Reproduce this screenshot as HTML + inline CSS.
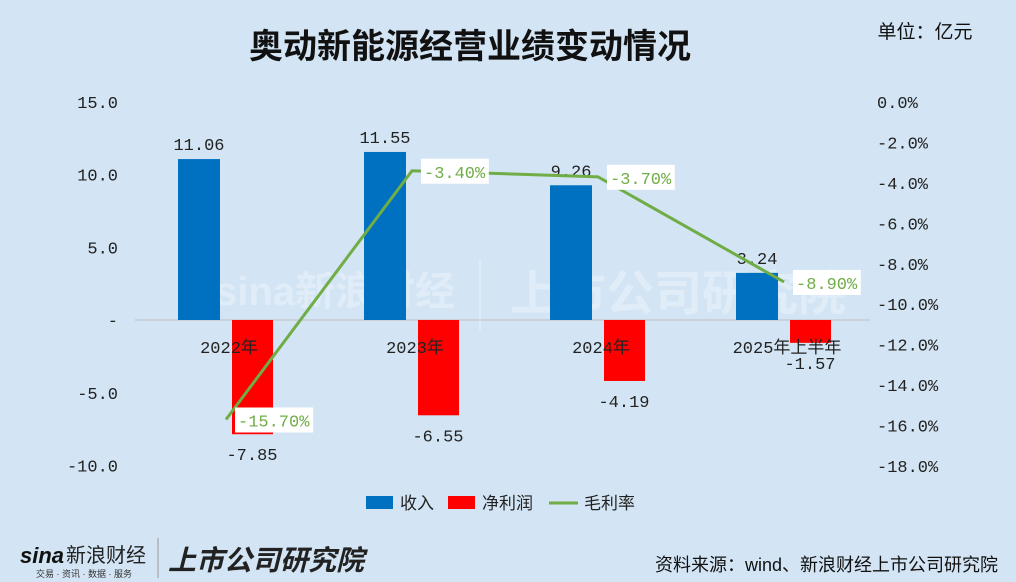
<!DOCTYPE html>
<html><head><meta charset="utf-8"><style>
body{margin:0;background:#d3e5f4;}
#c{position:relative;width:1016px;height:582px;background:#d3e5f4;overflow:hidden;font-family:"Liberation Sans","Noto Sans CJK SC",sans-serif;}
</style></head><body>
<div id="c">
<svg id="s" width="1016" height="582" xmlns="http://www.w3.org/2000/svg">
<text x="470" y="58" text-anchor="middle" font-size="34" font-weight="bold" fill="#111" font-family="Liberation Sans,Noto Sans CJK SC,sans-serif">奥动新能源经营业绩变动情况</text>
<text x="925" y="38" text-anchor="middle" font-size="19" fill="#111" font-family="Liberation Sans,Noto Sans CJK SC,sans-serif">单位：亿元</text>
<g opacity="0.3">
<text x="215" y="305" font-size="40" font-weight="bold" fill="#fff" font-family="Liberation Sans,Noto Sans CJK SC,sans-serif">sina新浪财经</text>
<line x1="480" y1="260" x2="480" y2="330" stroke="#fff" stroke-width="2"/>
<text x="510" y="310" font-size="48" font-weight="bold" fill="#fff" font-family="Liberation Sans,Noto Sans CJK SC,sans-serif">上市公司研究院</text>
</g>
<g id="plot"></g>
<g>
<rect x="366" y="496" width="27" height="13" fill="#0070c0"/>
<text x="400" y="509" font-size="17" fill="#222" font-family="Liberation Sans,Noto Sans CJK SC,sans-serif">收入</text>
<rect x="448" y="496" width="27" height="13" fill="#ff0000"/>
<text x="482" y="509" font-size="17" fill="#222" font-family="Liberation Sans,Noto Sans CJK SC,sans-serif">净利润</text>
<line x1="549" y1="503" x2="578" y2="503" stroke="#70ad47" stroke-width="3"/>
<text x="584" y="509" font-size="17" fill="#222" font-family="Liberation Sans,Noto Sans CJK SC,sans-serif">毛利率</text>
</g>
<g>
<text x="20" y="563" font-size="22" font-weight="bold" font-style="italic" fill="#111" font-family="Liberation Sans,sans-serif">sina</text>
<text x="66" y="562" font-size="20" fill="#222" font-family="Liberation Sans,Noto Sans CJK SC,sans-serif">新浪财经</text>
<text x="36" y="577" font-size="9" fill="#333" font-family="Liberation Sans,Noto Sans CJK SC,sans-serif">交易 · 资讯 · 数据 · 服务</text>
<line x1="158" y1="538" x2="158" y2="578" stroke="#999"/>
<text x="168" y="570" font-size="28" font-weight="bold" font-style="italic" fill="#222" font-family="Liberation Sans,Noto Sans CJK SC,sans-serif">上市公司研究院</text>
</g>
<text x="998" y="571" text-anchor="end" font-size="18" fill="#111" font-family="Liberation Sans,Noto Sans CJK SC,sans-serif">资料来源：wind、新浪财经上市公司研究院</text>
</svg>
</div>
<script>
const categories=["2022年","2023年","2024年","2025年上半年"];
const revenue=[11.06,11.55,9.26,3.24];
const profit=[-7.85,-6.55,-4.19,-1.57];
const margin=[-15.70,-3.40,-3.70,-8.90];
const leftTicks=[15,10,5,0,-5,-10];
const rightTicks=[0,-2,-4,-6,-8,-10,-12,-14,-16,-18];
const NS="http://www.w3.org/2000/svg";
const g=document.getElementById('plot');
const y0=320,pxPerUnit=14.55;
const yL=v=>y0-v*pxPerUnit;
const yR=p=>102+(-p)*(364/18);
const xC=i=>225+i*186;
function mk(t,a,txt){const e=document.createElementNS(NS,t);for(const k in a)e.setAttribute(k,a[k]);if(txt!==undefined)e.textContent=txt;g.appendChild(e);return e;}
const F="Liberation Mono,Noto Sans CJK SC,monospace";
leftTicks.forEach(v=>{const e=mk('text',{x:118,y:yL(v)+6,'text-anchor':'end','font-size':17,fill:'#222','font-family':F},v===0?'-':v.toFixed(1));

});
rightTicks.forEach(v=>{const e=mk('text',{x:877,y:yR(v)+6,'font-size':17,fill:'#222','font-family':F},v.toFixed(1)+'%');

});
const ax=mk('line',{x1:135,y1:y0,x2:870,y2:y0,stroke:'#bfbfbf','stroke-width':1});


categories.forEach((c,i)=>{
const cx=xC(i);
const r=revenue[i],p=profit[i];
const b=mk('rect',{x:cx-47,y:yL(r),width:42,height:y0-yL(r),fill:'#0070c0'});


const b2=mk('rect',{x:cx+7,y:y0,width:41,height:yL(p)-y0,fill:'#ff0000'});


const t=mk('text',{x:cx-26,y:yL(r)-9,'text-anchor':'middle','font-size':17,fill:'#222','font-family':F},r.toFixed(2));


const t2=mk('text',{x:cx+27,y:yL(p)+26,'text-anchor':'middle','font-size':17,fill:'#222','font-family':F},p.toFixed(2));


const cl=mk('text',{x:cx+4,y:353,'text-anchor':'middle','font-size':17,fill:'#222','font-family':F},c);


});
const pts=margin.map((m,i)=>[xC(i)+1,yR(m)]);
const pl=mk('polyline',{points:pts.map(p=>p.join(',')).join(' '),fill:'none',stroke:'#70ad47','stroke-width':3});


margin.forEach((m,i)=>{
const [x,y]=pts[i];const s=m.toFixed(2)+'%';const w=s.length*10.3+6;
const r=mk('rect',{x:x+9,y:y-12,width:w,height:25,fill:'#fff'});


const t=mk('text',{x:x+12,y:y+7,'font-size':17,fill:'#70ad47','font-family':F},s);


});
</script>
</body></html>
